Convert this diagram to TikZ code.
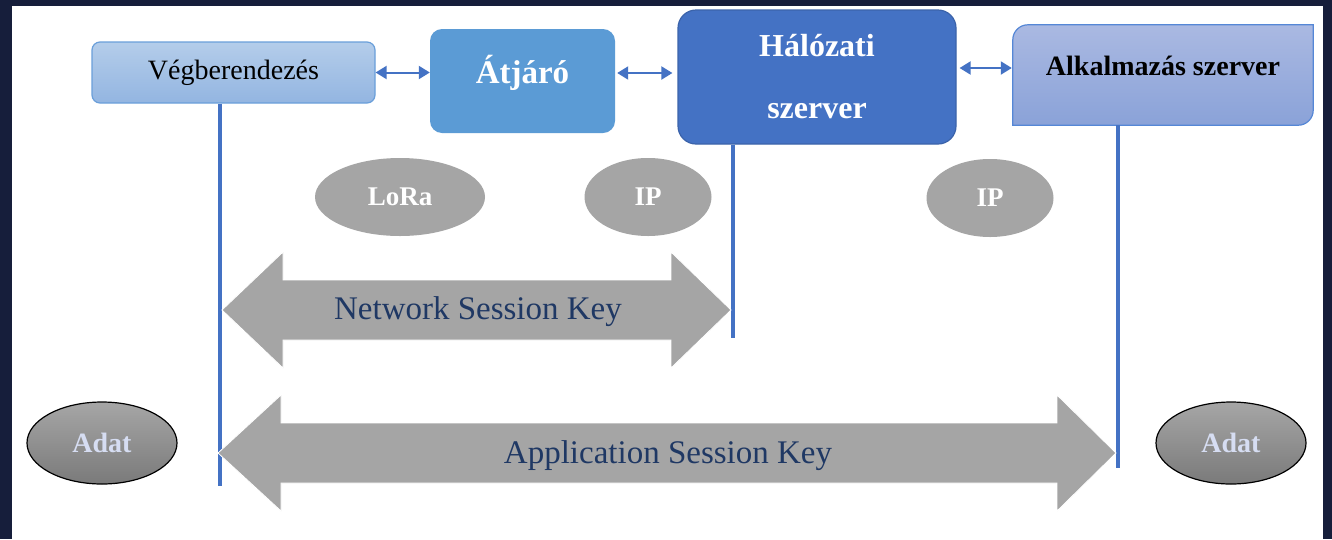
\documentclass[tikz,border=0pt]{standalone}
\usepackage{fontspec}
\setmainfont{Liberation Serif}
\usetikzlibrary{arrows.meta,calc,shapes.geometric}

\definecolor{framenavy}{HTML}{161E3B}
\definecolor{vegtop}{HTML}{B4CDEA}
\definecolor{vegbot}{HTML}{93B5E1}
\definecolor{vegline}{HTML}{6A9FDA}
\definecolor{atjfill}{HTML}{5B9BD5}
\definecolor{halfill}{HTML}{4472C4}
\definecolor{halline}{HTML}{3B63AA}
\definecolor{alktop}{HTML}{AAB9E2}
\definecolor{alkbot}{HTML}{8AA2D8}
\definecolor{alkline}{HTML}{5587D6}
\definecolor{linkblue}{HTML}{4472C4}
\definecolor{keygray}{HTML}{A5A5A5}
\definecolor{keytext}{HTML}{1F3864}
\definecolor{adattop}{HTML}{A6A6A6}
\definecolor{adatbot}{HTML}{7A7A7A}
\definecolor{adattext}{HTML}{D6DDF2}

\tikzset{
  vegbox/.style={rounded corners=8pt, minimum width=283pt, minimum height=61pt,
    inner sep=0pt, top color=vegtop, bottom color=vegbot, draw=vegline,
    line width=1.2pt, font=\fontsize{28}{30}\selectfont},
  atjbox/.style={rounded corners=12pt, minimum width=185pt, minimum height=104pt,
    inner sep=0pt, fill=atjfill},
  halbox/.style={rounded corners=18pt, minimum width=278pt, minimum height=134pt,
    inner sep=0pt, fill=halfill, draw=halline, line width=1.2pt, align=center,
    text=white, font=\bfseries\fontsize{32}{62}\selectfont},
  whitebold/.style={text=white, inner sep=0pt},
  link/.style={draw=linkblue, line width=2pt,
    {Triangle[length=11pt,width=13pt]}-{Triangle[length=11pt,width=13pt]}},
  vline/.style={draw=linkblue, line width=4pt},
  proto/.style={ellipse, minimum height=78pt, inner sep=0pt, fill=keygray,
    text=white, font=\bfseries\fontsize{27}{29}\selectfont},
  keyarrow/.style={fill=keygray, draw=white, line width=0.8pt},
  keylabel/.style={text=keytext, inner sep=0pt, font=\fontsize{33}{35}\selectfont},
  adat/.style={ellipse, minimum width=150pt, minimum height=82pt, inner sep=0pt,
    top color=adattop, bottom color=adatbot, draw=black, line width=1.2pt,
    text=adattext, font=\bfseries\fontsize{28}{30}\selectfont}
}

\begin{document}
\begin{tikzpicture}[x=1pt, y=-1pt]
  \useasboundingbox (0,0) rectangle (1332,539);
  % dark frame and white page
  \fill[framenavy] (0,0) rectangle (1332,539);
  \fill[white] (12,6) rectangle (1323,539);

  % top row of components
  \node[vegbox] (veg) at (233.5,72.5) {Végberendezés};
  \node[atjbox] (atj) at (522.5,81) {};
  \node[whitebold, font=\bfseries\fontsize{33}{35}\selectfont] (atjtext) at (522.5,73) {Átjáró};
  \node[halbox] (hal) at (817,77) {Hálózati\\szerver};
  \node[minimum width=300pt, minimum height=100pt, inner sep=0pt] (alk) at (1163,75) {};
  % box with two diagonal rounded corners
  \draw[top color=alktop, bottom color=alkbot, draw=alkline, line width=1.2pt]
    (alk.south west) [rounded corners=15pt] -- (alk.north west)
    [sharp corners] -- (alk.north east)
    [rounded corners=15pt] -- (alk.south east)
    [sharp corners] -- (alk.south west) -- cycle;
  \node[inner sep=0pt, font=\bfseries\fontsize{28}{30}\selectfont] (alktext) at (1163,66) {Alkalmazás szerver};

  % links between components
  \draw[link] (veg.east) -- (atj.west |- veg.east);
  \draw[link] ([xshift=2pt]atj.east |- atjtext) -- ([xshift=-5pt]hal.west |- atjtext);
  \draw[link] ($(hal.east |- alktext)+(3,2)$) -- ($(alk.west |- alktext)+(-1,2)$);

  % lifelines
  \coordinate (v1end) at (220,486);
  \coordinate (v2end) at (733,338);
  \coordinate (v3end) at (1118,468);
  \draw[vline] (veg.south -| v1end) -- (v1end);
  \draw[vline] (hal.south -| v2end) -- (v2end);
  \draw[vline] (alk.south -| v3end) -- (v3end);

  % protocols
  \node[proto, minimum width=170pt] (lora) at (400,197) {LoRa};
  \node[proto, minimum width=127pt] (ip1) at (648,197) {IP};
  \node[proto, minimum width=127pt] (ip2) at (990,198) {IP};

  % session keys
  \filldraw[keyarrow] (222,310) -- (283,252) -- (283,280) -- (671,280) -- (671,252)
    -- (731,310) -- (671,368) -- (671,340) -- (283,340) -- (283,368) -- cycle;
  \node[keylabel] (nsk) at (478,312) {Network Session Key};
  \filldraw[keyarrow] (218,453) -- (281,395) -- (281,423) -- (1057,423) -- (1057,395)
    -- (1116,453) -- (1057,511) -- (1057,483) -- (281,483) -- (281,511) -- cycle;
  \node[keylabel] (ask) at (668,456) {Application Session Key};

  % data at both ends
  \node[adat] (adat1) at (102,443) {Adat};
  \node[adat] (adat2) at (1231,443) {Adat};
\end{tikzpicture}
\end{document}
